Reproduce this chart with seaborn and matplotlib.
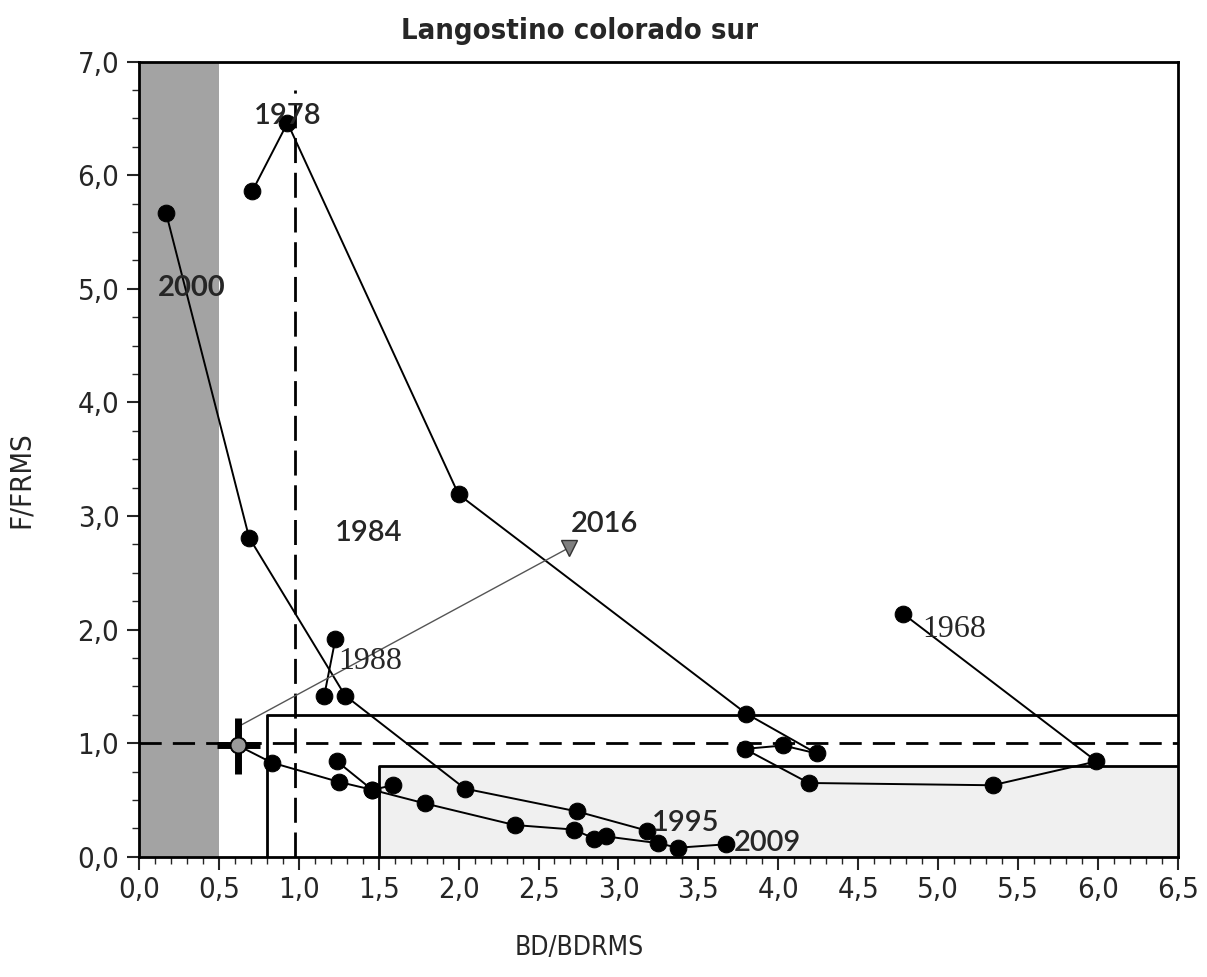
import numpy as np
import pandas as pd
import matplotlib
matplotlib.use('Agg')
import matplotlib.pyplot as plt
import seaborn as sns
from matplotlib.ticker import MultipleLocator, FuncFormatter

# trayectorias BD/BDRMS (x) y F/FRMS (y)
tramo1_x = [4.78, 5.99, 5.34, 4.19, 3.79, 4.03, 4.24, 3.80, 2.00, 0.93, 0.71]
tramo1_y = [2.14, 0.84, 0.63, 0.65, 0.95, 0.98, 0.91, 1.26, 3.19, 6.46, 5.86]
tramo2_x = [1.23, 1.16]
tramo2_y = [1.92, 1.42]
tramo3_x = [3.18, 2.74, 2.04, 1.29, 0.69, 0.17]
tramo3_y = [0.23, 0.40, 0.60, 1.42, 2.81, 5.67]
tramo4_x = [0.62, 0.83, 1.25, 1.46, 1.79, 2.35, 2.72, 2.85, 2.92, 3.25, 3.37, 3.67]
tramo4_y = [0.98, 0.83, 0.66, 0.59, 0.47, 0.28, 0.24, 0.16, 0.18, 0.12, 0.08, 0.11]
tramo5_x = [1.24, 1.46, 1.59]
tramo5_y = [0.84, 0.59, 0.63]

# punto actual con intervalos y proyeccion 2016
actual_x, actual_y = 0.62, 0.98
actual_xerr = [[0.13], [0.14]]
actual_yerr = [[0.25], [0.24]]
inicio_flecha = (0.64, 1.16)
proy_x, proy_y = 2.69, 2.72

# etiquetas de anios
anios = ['1978', '2000', '1984', '2016', '1968', '1988', '1995', '2009']
anios_x = [0.93, 0.33, 1.44, 2.91, 5.10, 1.45, 3.42, 3.93]
anios_y = [6.52, 5.01, 2.85, 2.93, 2.00, 1.72, 0.30, 0.12]

# puntos de referencia
bd_colapso = 0.5
bd_lim = 0.8
bd_obj = 1.5
f_obj = 0.8
f_lim = 1.25
f_rms = 1.0
bd_rms = 0.98

sns.set_style('white')
plt.rcParams['font.family'] = ['DejaVu Sans']
plt.rcParams['font.stretch'] = 'condensed'

fig = plt.figure(figsize=(12.07, 9.77), dpi=100)
ax = fig.add_axes([0.115, 0.123, 0.861, 0.814])

# zonas sombreadas
ax.axvspan(0.01, bd_colapso, color='#a3a3a3', lw=0, zorder=0)
ax.fill_between([bd_obj, 6.5], 0, f_obj, color='#f0f0f0', lw=0, zorder=0)

# rectangulos de referencia
ax.plot([bd_lim, bd_lim, 6.5], [0, f_lim, f_lim], color='black', lw=2)
ax.plot([bd_obj, bd_obj, 6.5], [0, f_obj, f_obj], color='black', lw=2)
ax.plot([0, 6.5], [f_rms, f_rms], color='black', lw=2, ls=(0, (8, 4)))
ax.plot([bd_rms, bd_rms], [0, 6.75], color='black', lw=2, ls=(0, (9, 3.5)))

tramos = [(tramo1_x, tramo1_y), (tramo2_x, tramo2_y), (tramo3_x, tramo3_y),
          (tramo4_x, tramo4_y), (tramo5_x, tramo5_y)]
for tx, ty in tramos:
    df = pd.DataFrame({'x': tx, 'y': ty})
    sns.lineplot(data=df, x='x', y='y', sort=False, ax=ax, color='black',
                 lw=1.4, marker='o', markersize=12, markeredgecolor='black',
                 zorder=3)

# flecha a la proyeccion
ax.plot([inicio_flecha[0], proy_x], [inicio_flecha[1], proy_y],
        color='#555555', lw=1, zorder=3)
ax.plot([proy_x], [proy_y], marker='v', color='#7f7f7f', markersize=11,
        markeredgecolor='#333333', zorder=4)

ax.errorbar([actual_x], [actual_y], xerr=actual_xerr, yerr=actual_yerr,
            fmt='o', color='black', ecolor='black', elinewidth=5, capsize=0,
            markersize=9, markerfacecolor='#9a9a9a', markeredgecolor='#9a9a9a',
            zorder=5)

serif = {'1968', '1988'}
for t, xx, yy in zip(anios, anios_x, anios_y):
    if t in serif:
        ax.text(xx, yy, t, ha='center', va='center', fontsize=23,
                family='Liberation Serif', stretch='normal', zorder=6)
    else:
        ax.text(xx, yy, t, ha='center', va='center', fontsize=21,
                family='Lato', stretch='normal',
                weight='bold' if t == '2000' else 'semibold', zorder=6)

ax.set_xlim(0, 6.5)
ax.set_ylim(0, 7)
ax.xaxis.set_major_locator(MultipleLocator(0.5))
ax.xaxis.set_minor_locator(MultipleLocator(0.1))
ax.yaxis.set_major_locator(MultipleLocator(1.0))
ax.yaxis.set_minor_locator(MultipleLocator(0.25))
coma = FuncFormatter(lambda v, p: f'{v:.1f}'.replace('.', ','))
ax.xaxis.set_major_formatter(coma)
ax.yaxis.set_major_formatter(coma)
ax.tick_params(which='major', direction='out', length=9, width=1.5,
               labelsize=21, pad=5, bottom=True, left=True)
ax.tick_params(which='minor', direction='out', length=5, width=1,
               bottom=True, left=True)
for s in ax.spines.values():
    s.set_linewidth(2)
    s.set_color('black')

ax.set_xlabel('BD/BDRMS', fontsize=19)
ax.xaxis.set_label_coords(0.424, -0.098)
ax.set_ylabel('F/FRMS', fontsize=21)
ax.yaxis.set_label_coords(-0.10, 0.474)
ax.set_title('Langostino colorado sur', fontsize=21, weight='bold', pad=16,
             x=0.424)

fig.savefig('out.png', dpi=100)
